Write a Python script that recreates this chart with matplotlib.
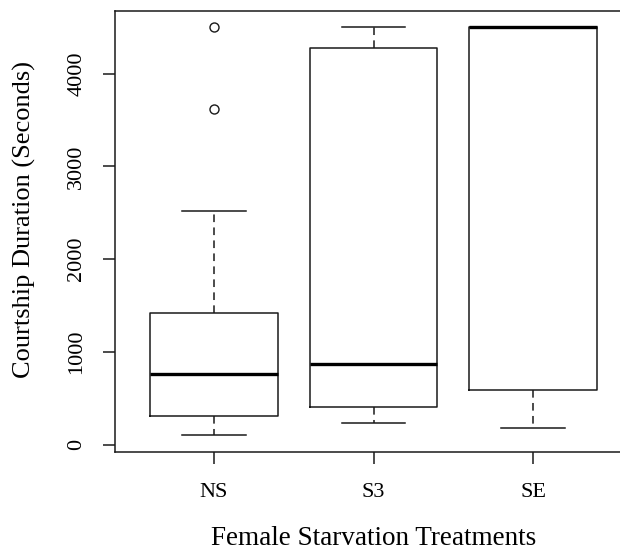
import matplotlib
matplotlib.use('Agg')
import matplotlib.pyplot as plt

# courtship duration by female starvation treatment (summary stats per group)
groups = ['NS', 'S3', 'SE']
whisker_low = [100, 230, 175]
q1 = [305, 405, 585]
median = [760, 865, 4500]
q3 = [1415, 4275, 4500]
whisker_high = [2520, 4500, 4500]
outliers = [[3620, 4500], [], []]

y_ticks = [0, 1000, 2000, 3000, 4000]

plt.rcParams['font.family'] = ['Liberation Serif', 'DejaVu Serif']

stats = []
for i, name in enumerate(groups):
    stats.append({'label': name, 'whislo': whisker_low[i], 'q1': q1[i],
                  'med': median[i], 'q3': q3[i], 'whishi': whisker_high[i],
                  'fliers': outliers[i]})

fig = plt.figure(figsize=(6.2, 5.53), dpi=100)
# right edge of the plot frame runs past the figure edge
ax = fig.add_axes([0.1855, 0.1832, 0.834, 0.7969])

ax.bxp(stats, positions=[1, 2, 3], widths=0.8,
       boxprops=dict(color='#1a1a1a', linewidth=1.1),
       medianprops=dict(color='black', linewidth=2.4, solid_capstyle='butt'),
       whiskerprops=dict(color='#1a1a1a', linewidth=1.1, linestyle=(0, (5, 3.5))),
       capprops=dict(color='#1a1a1a', linewidth=1.1),
       capwidths=0.4,
       flierprops=dict(marker='o', markersize=6.5, markerfacecolor='none',
                       markeredgecolor='#1a1a1a', markeredgewidth=1.0))

ax.set_xlim(0.38, 3.62)
ax.set_ylim(-76, 4676)
ax.set_yticks(y_ticks)
ax.set_yticklabels([str(t) for t in y_ticks], rotation=90, va='center')
ax.set_xticks([1, 2, 3])
ax.set_xticklabels(groups)

ax.tick_params(axis='both', direction='out', length=8.6, width=1.1,
               labelsize=16, color='#1a1a1a')
ax.tick_params(axis='x', pad=14)
ax.tick_params(axis='y', pad=12)
for side in ['left', 'top', 'bottom']:
    ax.spines[side].set_linewidth(1.1)
    ax.spines[side].set_color('#1a1a1a')
ax.spines['right'].set_visible(False)

ax.set_xlabel('Female Starvation Treatments', fontsize=19.5, va='center')
ax.set_ylabel('Courtship Duration (Seconds)', fontsize=19, va='center')
ax.xaxis.set_label_coords(0.50, -0.198)
ax.yaxis.set_label_coords(-0.175, 0.527)

fig.savefig('out.png', dpi=100)
